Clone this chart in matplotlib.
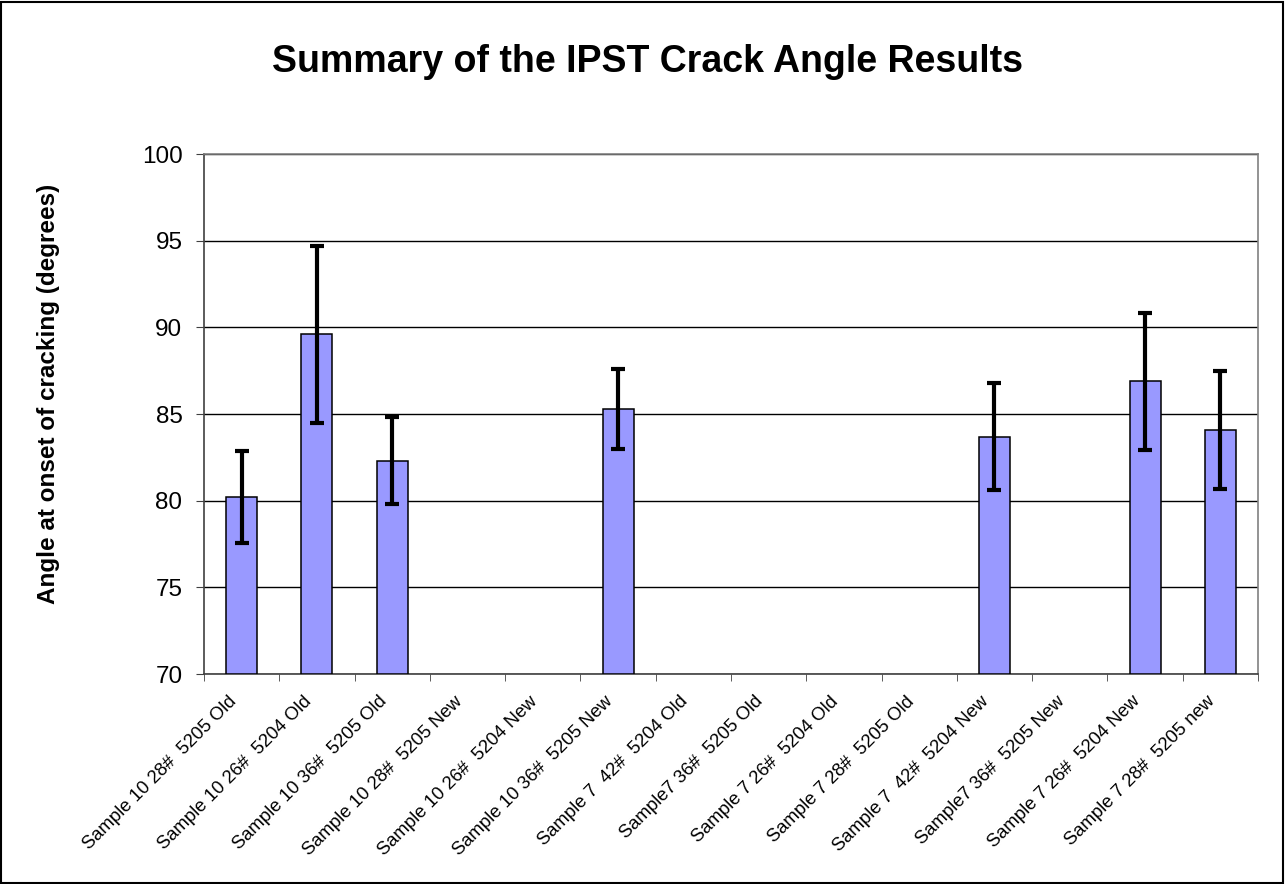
import matplotlib
matplotlib.use("Agg")
import matplotlib.pyplot as plt
import matplotlib.transforms as mtransforms
from matplotlib.patches import Rectangle
import numpy as np

plt.rcParams['font.family'] = ['Liberation Sans', 'DejaVu Sans']

categories = [
    "Sample 10 28#  5205 Old",
    "Sample 10 26#  5204 Old",
    "Sample 10 36#  5205 Old",
    "Sample 10 28#  5205 New",
    "Sample 10 26#  5204 New",
    "Sample 10 36#  5205 New",
    "Sample 7  42#  5204 Old",
    "Sample7 36#  5205 Old",
    "Sample 7 26#  5204 Old",
    "Sample 7 28#  5205 Old",
    "Sample 7  42#  5204 New",
    "Sample7 36#  5205 New",
    "Sample 7 26#  5204 New",
    "Sample 7 28#  5205 new",
]
means = [80.2, 89.6, 82.3, np.nan, np.nan, 85.3, np.nan, np.nan, np.nan, np.nan,
         83.7, np.nan, 86.9, 84.1]
errors = [2.65, 5.1, 2.5, np.nan, np.nan, 2.3, np.nan, np.nan, np.nan, np.nan,
          3.1, np.nan, 3.95, 3.4]
yticks = [70, 75, 80, 85, 90, 95, 100]

W, H = 1286, 884
fig = plt.figure(figsize=(W / 100, H / 100), dpi=100)
ax = fig.add_axes([204 / W, 1 - 674 / H, (1258 - 204) / W, (674 - 154) / H])

x = np.arange(len(categories))
m = np.array(means, dtype=float)
e = np.array(errors, dtype=float)
valid = ~np.isnan(m)
base = 70
ax.bar(x[valid], m[valid] - base, bottom=base, width=0.41, color='#9999FF',
       edgecolor='black', linewidth=1.1, zorder=3)
ax.errorbar(x[valid], m[valid], yerr=e[valid], fmt='none', ecolor='black',
            elinewidth=3, capsize=4.7, capthick=3, zorder=4)

ax.set_xlim(-0.5, len(categories) - 0.5)
ax.set_ylim(70, 100)
ax.set_yticks(yticks)
ax.set_yticklabels([str(t) for t in yticks], fontsize=17.5)
ax.yaxis.grid(True, color='black', linewidth=1)
ax.set_axisbelow(True)
for s in ['top', 'right']:
    ax.spines[s].set_color('#808080')
for s in ['left', 'bottom']:
    ax.spines[s].set_color('#404040')
for sp in ax.spines.values():
    sp.set_linewidth(1.2)

ax.set_xticks(np.arange(len(categories) + 1) - 0.5, minor=True)
ax.set_xticks(x)
ax.tick_params(axis='x', which='major', length=0)
ax.tick_params(axis='x', which='minor', length=5, direction='out', color='#404040')
ax.tick_params(axis='y', length=5.5, direction='out', color='#404040', pad=10)
ax.set_xticklabels(categories, fontsize=13.3, rotation=45, ha='right',
                   rotation_mode='anchor')
offset = mtransforms.ScaledTranslation(-14 / 100, -14 / 100, fig.dpi_scale_trans)
for lab in ax.get_xticklabels():
    lab.set_transform(lab.get_transform() + offset)

fig.text(49 / W, 1 - 394 / H, 'Angle at onset of cracking (degrees)',
         rotation=90, ha='center', va='center', fontsize=17.5, fontweight='bold')
fig.text(648 / W, 1 - 62 / H, 'Summary of the IPST Crack Angle Results',
         ha='center', va='center', fontsize=27, fontweight='bold')

fig.patches.append(Rectangle((1 / W, 1 / H), (W - 4) / W, (H - 3) / H,
                             transform=fig.transFigure, fill=False,
                             edgecolor='black', linewidth=1.5))

fig.savefig('out.png', dpi=100)
